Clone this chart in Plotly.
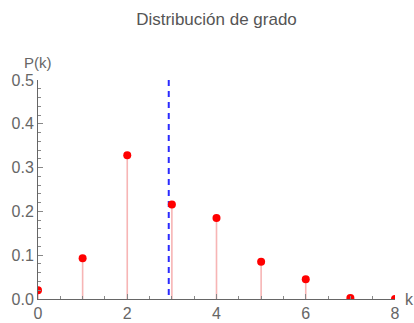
import plotly.graph_objects as go

k_values = [0, 1, 2, 3, 4, 5, 6, 7, 8]
p_values = [0.020, 0.093, 0.328, 0.216, 0.185, 0.085, 0.045, 0.002, 0.0]
mean_k = 2.93
x_ticks = [0, 2, 4, 6, 8]
y_ticks = [0.0, 0.1, 0.2, 0.3, 0.4, 0.5]
y_tick_labels = ["0.0", "0.1", "0.2", "0.3", "0.4", "0.5"]

grey = "#666666"
font = "Liberation Sans, Arial, sans-serif"

stem_x, stem_y = [], []
for k, p in zip(k_values, p_values):
    stem_x += [k, k, None]
    stem_y += [0, p, None]

fig = go.Figure()
fig.add_trace(go.Scatter(x=stem_x, y=stem_y, mode="lines",
                         line=dict(color="rgba(240,120,120,0.55)", width=1.6),
                         hoverinfo="skip", showlegend=False))
fig.add_trace(go.Scatter(x=[mean_k, mean_k], y=[0.5, 0], mode="lines",
                         line=dict(color="#2b2bff", width=2, dash="6px,5px"),
                         showlegend=False))
fig.add_trace(go.Scatter(x=k_values, y=p_values, mode="markers",
                         marker=dict(color="#ff0000", size=8),
                         showlegend=False))

fig.update_layout(
    width=414, height=323,
    margin=dict(l=38, r=19, t=80, b=24, autoexpand=False),
    paper_bgcolor="white", plot_bgcolor="white",
    title=dict(text="Distribución de grado", xref="paper", x=0.5, xanchor="center",
               y=1 - 19 / 323, yanchor="middle",
               font=dict(family=font, size=17, color="#555555")),
    font=dict(family=font, size=16, color=grey),
)
fig.update_xaxes(range=[0, 8], tickvals=x_ticks, ticks="inside", ticklen=5,
                 tickcolor="#888888", showline=True, linecolor="#666666", linewidth=1,
                 showgrid=False, zeroline=False, automargin=False,
                 tickfont=dict(family=font, size=16, color=grey),
                 minor=dict(dtick=0.5, ticks="inside", ticklen=3, tickcolor="#888888", showgrid=False))
fig.update_yaxes(range=[0, 0.5], tickvals=y_ticks, ticktext=y_tick_labels,
                 ticks="inside", ticklen=5, ticklabelstandoff=0,
                 tickcolor="#888888", showline=True, linecolor="#666666", linewidth=1,
                 showgrid=False, zeroline=False, automargin=False,
                 tickfont=dict(family=font, size=16, color=grey),
                 minor=dict(dtick=0.02, ticks="inside", ticklen=3, tickcolor="#888888", showgrid=False))

fig.add_annotation(text="P(k)", xref="paper", yref="paper", x=0, y=1,
                   xanchor="center", yanchor="bottom", yshift=7, showarrow=False,
                   font=dict(family=font, size=15, color=grey))
fig.add_annotation(text="k", xref="paper", yref="paper", x=1, y=0,
                   xanchor="left", yanchor="middle", xshift=8, showarrow=False,
                   font=dict(family=font, size=16, color=grey))

fig.write_html("out.html")
